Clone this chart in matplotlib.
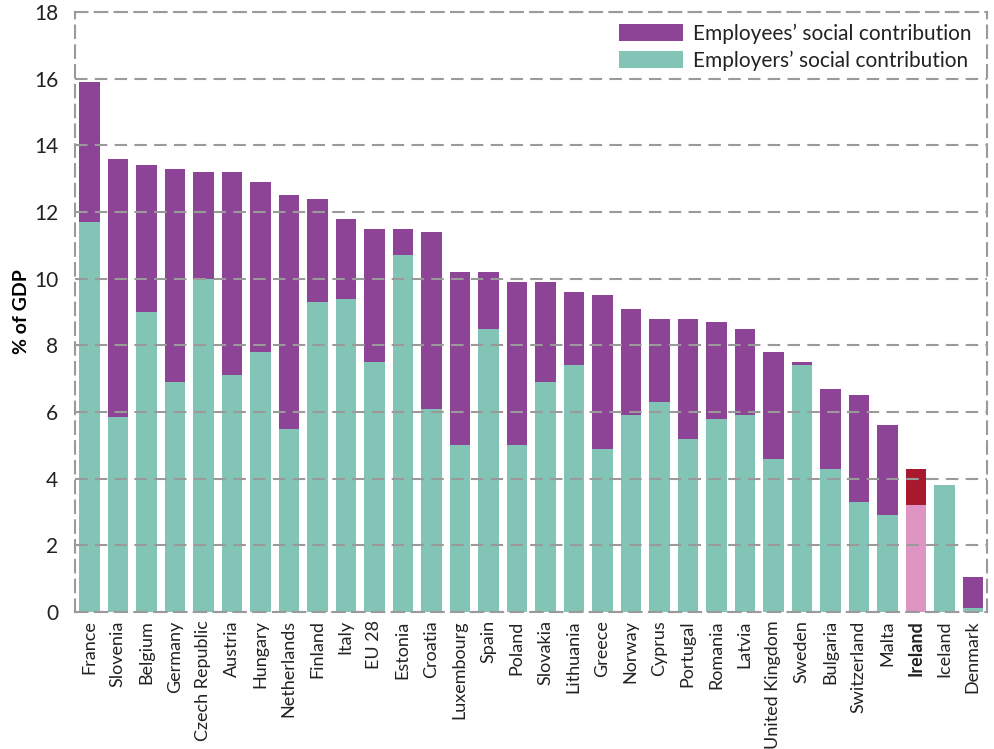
import matplotlib
matplotlib.use("Agg")
import matplotlib.pyplot as plt
import numpy as np

countries = ["France", "Slovenia", "Belgium", "Germany", "Czech Republic", "Austria",
             "Hungary", "Netherlands", "Finland", "Italy", "EU 28", "Estonia", "Croatia",
             "Luxembourg", "Spain", "Poland", "Slovakia", "Lithuania", "Greece", "Norway",
             "Cyprus", "Portugal", "Romania", "Latvia", "United Kingdom", "Sweden",
             "Bulgaria", "Switzerland", "Malta", "Ireland", "Iceland", "Denmark"]
total = [15.9, 13.6, 13.4, 13.3, 13.2, 13.2, 12.9, 12.5, 12.4, 11.8, 11.5, 11.5, 11.4,
         10.2, 10.2, 9.9, 9.9, 9.6, 9.5, 9.1, 8.8, 8.8, 8.7, 8.5, 7.8, 7.5,
         6.7, 6.5, 5.6, 4.3, 3.8, 1.05]
employers = [11.7, 5.85, 9.0, 6.9, 10.0, 7.1, 7.8, 5.5, 9.3, 9.4, 7.5, 10.7, 6.1,
             5.0, 8.5, 5.0, 6.9, 7.4, 4.9, 5.9, 6.3, 5.2, 5.8, 5.9, 4.6, 7.4,
             4.3, 3.3, 2.9, 3.2, 3.8, 0.12]
employees = [round(t - e, 2) for t, e in zip(total, employers)]

highlight = "Ireland"
c_emp_ees = "#8e4496"
c_emp_ers = "#82c4b5"
c_hl_ees = "#a8192e"
c_hl_ers = "#de95c3"

plt.rcParams['font.family'] = ['Lato', 'DejaVu Sans']

fig = plt.figure(figsize=(9.95, 7.49), dpi=100)
ax = fig.add_axes([0.0754, 0.183, 0.9166, 0.801])

x = np.arange(len(countries))
ers_colors = [c_hl_ers if c == highlight else c_emp_ers for c in countries]
ees_colors = [c_hl_ees if c == highlight else c_emp_ees for c in countries]
ax.bar(x, employers, width=0.72, color=ers_colors, zorder=2, label="Employers’ social contribution")
ax.bar(x, employees, bottom=employers, width=0.72, color=ees_colors, zorder=2,
       label="Employees’ social contribution")

dash = (0, (6, 3.5))
ax.set_xlim(-0.5, len(countries) - 0.5)
ax.set_ylim(0, 18)
ax.set_yticks(np.arange(0, 19, 2))
ax.yaxis.grid(True, linestyle=dash, color="#9a9a9a", linewidth=1.5, zorder=3)
ax.set_axisbelow(False)
for s in ax.spines.values():
    s.set_linestyle(dash)
    s.set_color("#9a9a9a")
    s.set_linewidth(1.5)
ax.tick_params(axis='y', length=0, labelsize=15, colors="#222222", pad=12)
ax.tick_params(axis='x', length=0, labelsize=13, colors="#222222", pad=6)
ax.set_xticks(x)
ax.set_xticklabels(countries, rotation=90)
for lbl in ax.get_xticklabels():
    if lbl.get_text() == highlight:
        lbl.set_fontweight("bold")
ax.set_ylabel("% of GDP", fontsize=14, fontweight="bold", labelpad=3)

handles, labels = ax.get_legend_handles_labels()
leg = ax.legend(handles[::-1], labels[::-1], loc="upper right", frameon=False,
                fontsize=15, handlelength=3.1, handleheight=0.85,
                bbox_to_anchor=(1.003, 1.012), labelspacing=0.3, handletextpad=0.45)
for t in leg.get_texts():
    t.set_color("#222222")

fig.savefig("out.png", dpi=100)
